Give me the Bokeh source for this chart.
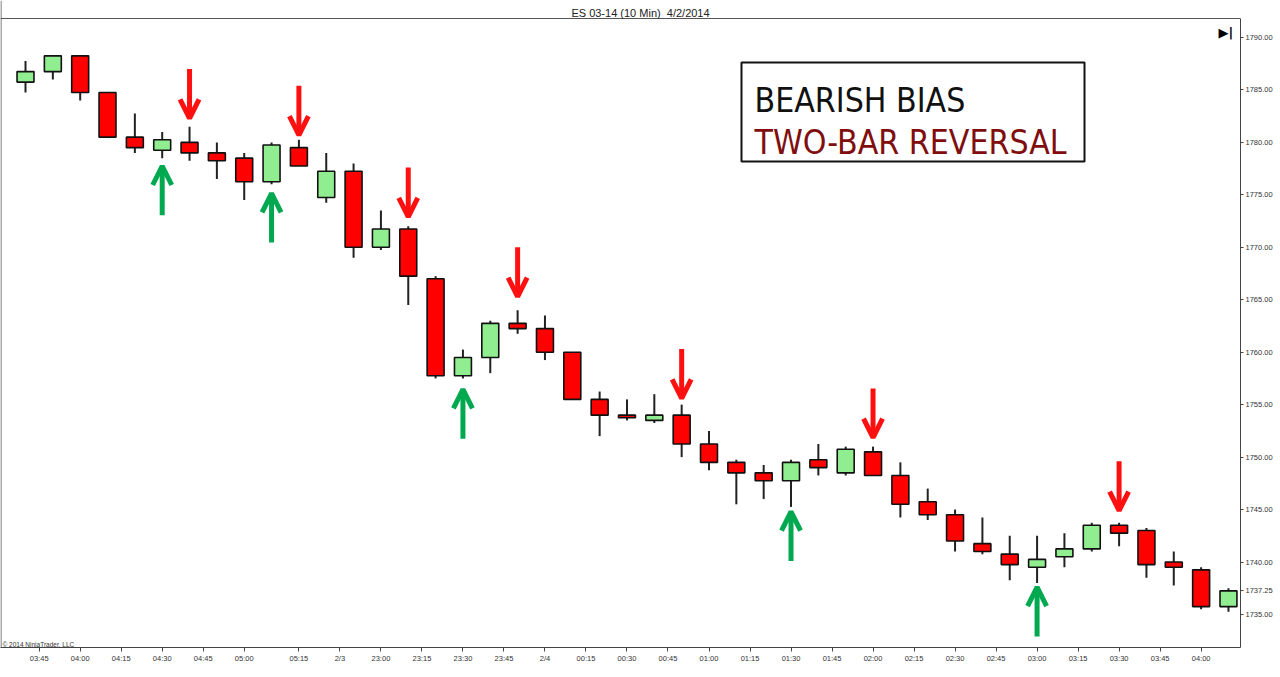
from bokeh.plotting import figure
from bokeh.models import (ColumnDataSource, FixedTicker, NumeralTickFormatter, Range1d,
                          Arrow, OpenHead, Label, BoxAnnotation, Span)
from bokeh.embed import file_html
from bokeh.resources import INLINE

# ---------------- data ----------------
opens = [1785.75, 1786.75, 1788.25, 1784.75, 1780.5, 1779.25, 1780.0, 1779.0, 1778.5, 1776.25,
         1779.5, 1774.75, 1777.25, 1770.0, 1771.75, 1767.0, 1757.75, 1759.5, 1762.75, 1762.25,
         1760.0, 1755.5, 1754.0, 1753.5, 1754.0, 1751.25, 1749.5, 1748.5, 1747.75, 1749.75,
         1748.5, 1750.5, 1748.25, 1745.75, 1744.5, 1741.75, 1740.75, 1739.5, 1740.5, 1741.25,
         1743.5, 1743.0, 1740.0, 1739.25, 1735.75]
highs = [1787.75, 1788.25, 1788.25, 1784.75, 1782.75, 1781.0, 1781.5, 1780.0, 1779.0, 1780.0,
         1780.25, 1779.0, 1778.0, 1773.5, 1772.0, 1767.25, 1760.25, 1763.0, 1764.0, 1763.5,
         1760.0, 1756.25, 1755.5, 1756.0, 1755.0, 1752.5, 1749.75, 1749.25, 1749.75, 1751.25,
         1751.0, 1751.0, 1749.5, 1747.0, 1745.0, 1744.25, 1742.5, 1742.5, 1742.75, 1743.75,
         1743.75, 1743.25, 1741.0, 1739.5, 1737.5]
lows = [1784.75, 1786.0, 1784.0, 1780.5, 1779.0, 1778.5, 1778.25, 1776.5, 1774.5, 1776.0,
        1777.75, 1774.25, 1769.0, 1769.75, 1764.5, 1757.5, 1757.5, 1758.0, 1761.75, 1759.25,
        1755.5, 1752.0, 1753.5, 1753.25, 1750.0, 1748.75, 1745.5, 1746.0, 1745.25, 1748.25,
        1748.25, 1748.25, 1744.25, 1744.0, 1741.0, 1740.75, 1738.25, 1738.0, 1739.5, 1741.0,
        1741.5, 1738.5, 1737.75, 1735.5, 1735.25]
closes = [1786.75, 1788.25, 1784.75, 1780.5, 1779.5, 1780.25, 1779.0, 1778.25, 1776.25, 1779.75,
          1777.75, 1777.25, 1770.0, 1771.75, 1767.25, 1757.75, 1759.5, 1762.75, 1762.25, 1760.0,
          1755.5, 1754.0, 1753.75, 1754.0, 1751.25, 1749.5, 1748.5, 1747.75, 1749.5, 1749.0,
          1750.75, 1748.25, 1745.5, 1744.5, 1742.0, 1741.0, 1739.75, 1740.25, 1741.25, 1743.5,
          1742.75, 1739.75, 1739.5, 1735.75, 1737.25]
bar_index = list(range(len(opens)))

tick_pos = [0.5, 2.0, 3.5, 5.0, 6.5, 8.0, 10.0, 11.5, 13.0, 14.5, 16.0, 17.5, 19.0, 20.5, 22.0,
            23.5, 25.0, 26.5, 28.0, 29.5, 31.0, 32.5, 34.0, 35.5, 37.0, 38.5, 40.0, 41.5, 43.0]
tick_labels = ["03:45", "04:00", "04:15", "04:30", "04:45", "05:00", "05:15", "2/3", "23:00",
               "23:15", "23:30", "23:45", "2/4", "00:15", "00:30", "00:45", "01:00", "01:15",
               "01:30", "01:45", "02:00", "02:15", "02:30", "02:45", "03:00", "03:15", "03:30",
               "03:45", "04:00"]
price_ticks = [1735, 1740, 1745, 1750, 1755, 1760, 1765, 1770, 1775, 1780, 1785, 1790]

down_bars = [6, 10, 14, 18, 24, 31, 40]
down_tips = [1782.3, 1780.7, 1772.9, 1765.3, 1755.6, 1751.85, 1744.9]
up_bars = [5, 9, 16, 28, 37]
up_tips = [1777.75, 1775.15, 1756.45, 1744.8, 1737.6]
last_price = 1737.25

title_text = "ES 03-14 (10 Min)\u00a0\u00a04/2/2014"
box_line1 = "BEARISH BIAS"
box_line2 = "TWO-BAR REVERSAL"
copyright_text = "\u00a9 2014 NinjaTrader, LLC"

# ---------------- geometry helpers (page pixels -> data) ----------------
W, H = 1280, 677
FRAME_RIGHT_PX, FRAME_BOTTOM_PX = 1240, 647
BAR0_PX, BAR_STEP_PX = 25.0, 27.34
PRICE_REF, PRICE_REF_PX, PX_PER_PT = 1790.0, 37.0, 10.49


def x_at(px):
    return (px - BAR0_PX) / BAR_STEP_PX


def y_at(py):
    return PRICE_REF - (py - PRICE_REF_PX) / PX_PER_PT


GREEN_BODY = "#90EE90"
RED_BODY = "#FF0000"
RED_ARROW = "#FF1010"
GREEN_ARROW = "#00A84F"
AXIS_FONT = "'Liberation Sans', Arial, sans-serif"
NARROW_FONT = "'DejaVu Sans Condensed', 'Liberation Sans Narrow', sans-serif"

p = figure(width=W, height=H, output_backend="svg", toolbar_location=None, tools="",
           title_location=None, y_axis_location="right",
           x_range=Range1d(x_at(0), x_at(FRAME_RIGHT_PX)),
           y_range=Range1d(y_at(FRAME_BOTTOM_PX), y_at(0)),
           min_border_left=0, min_border_right=W - FRAME_RIGHT_PX, min_border_top=0,
           min_border_bottom=H - FRAME_BOTTOM_PX)
p.outline_line_color = None
p.grid.visible = False
p.background_fill_color = "white"
p.border_fill_color = "white"

xa = p.xaxis[0]
xa.ticker = FixedTicker(ticks=tick_pos)
xa.major_label_overrides = {float(t): lab for t, lab in zip(tick_pos, tick_labels)}
xa.minor_tick_line_color = None
xa.major_tick_in = 0
xa.major_tick_out = 4
xa.axis_line_color = "#444"
xa.major_tick_line_color = "#444"
xa.major_label_text_font = AXIS_FONT
xa.major_label_text_font_size = "7.5px"
xa.major_label_text_color = "#333"
xa.major_label_standoff = 2

ya = p.yaxis[0]
ya.ticker = FixedTicker(ticks=price_ticks + [last_price])
ya.formatter = NumeralTickFormatter(format="0.00")
ya.minor_tick_line_color = None
ya.major_tick_in = 0
ya.major_tick_out = 3
ya.axis_line_color = "#444"
ya.major_tick_line_color = "#444"
ya.major_label_text_font = AXIS_FONT
ya.major_label_text_font_size = "7.5px"
ya.major_label_text_color = "#333"
ya.major_label_standoff = 2
ya.bounds = (y_at(FRAME_BOTTOM_PX), y_at(18))

# frame borders (top and left)
p.add_layout(Span(location=y_at(18), dimension="width", line_color="#555", line_width=1))
p.add_layout(Span(location=x_at(0.5), dimension="height", line_color="#555", line_width=1))

# ---------------- candles ----------------
src = ColumnDataSource(dict(
    x=bar_index, o=opens, h=highs, l=lows, c=closes,
    top=[max(o, c) for o, c in zip(opens, closes)],
    bottom=[min(o, c) for o, c in zip(opens, closes)],
    color=[GREEN_BODY if c >= o else RED_BODY for o, c in zip(opens, closes)],
))
p.segment(x0="x", y0="l", x1="x", y1="h", source=src, line_color="#222", line_width=2)
p.vbar(x="x", top="top", bottom="bottom", width=0.62, source=src,
       fill_color="color", line_color="#111", line_width=1.6)

# ---------------- arrows ----------------
ARROW_LEN = 4.7
dsrc = ColumnDataSource(dict(x=down_bars, y0=[t + ARROW_LEN for t in down_tips], y1=down_tips))
usrc = ColumnDataSource(dict(x=up_bars, y0=[t - ARROW_LEN for t in up_tips], y1=up_tips))
p.add_layout(Arrow(end=OpenHead(size=19, line_width=5, line_color=RED_ARROW),
                   x_start="x", y_start="y0", x_end="x", y_end="y1", source=dsrc,
                   line_color=RED_ARROW, line_width=5))
p.add_layout(Arrow(end=OpenHead(size=19, line_width=5, line_color=GREEN_ARROW),
                   x_start="x", y_start="y0", x_end="x", y_end="y1", source=usrc,
                   line_color=GREEN_ARROW, line_width=5))

# ---------------- annotation box ----------------
p.add_layout(BoxAnnotation(left=x_at(741), right=x_at(1084), top=y_at(62), bottom=y_at(161),
                           fill_color="white", fill_alpha=1.0, line_color="#111",
                           line_width=2, line_alpha=1.0))
p.add_layout(Label(x=x_at(754), y=y_at(100), text=box_line1, text_font=NARROW_FONT,
                   text_font_size="33.5px", text_color="#111", text_baseline="alphabetic"))
p.add_layout(Label(x=x_at(754), y=y_at(142), text=box_line2, text_font=NARROW_FONT,
                   text_font_size="33.5px", text_color="#800E0E", text_baseline="alphabetic"))

# ---------------- texts ----------------
p.add_layout(Label(x=x_at(640), y=y_at(12), text=title_text, text_font=AXIS_FONT,
                   text_font_size="11px", text_color="#222", text_align="center",
                   text_baseline="alphabetic"))
p.add_layout(Label(x=x_at(2), y=y_at(644), text=copyright_text, text_font=AXIS_FONT,
                   text_font_size="6.5px", text_color="#333", text_baseline="alphabetic"))
p.add_layout(Label(x=x_at(1218), y=y_at(32), text="\u25B6|", text_font="'DejaVu Sans', sans-serif",
                   text_font_size="13px", text_font_style="bold", text_color="#000",
                   text_baseline="middle"))

open("out.html", "w").write(file_html(p, INLINE))
